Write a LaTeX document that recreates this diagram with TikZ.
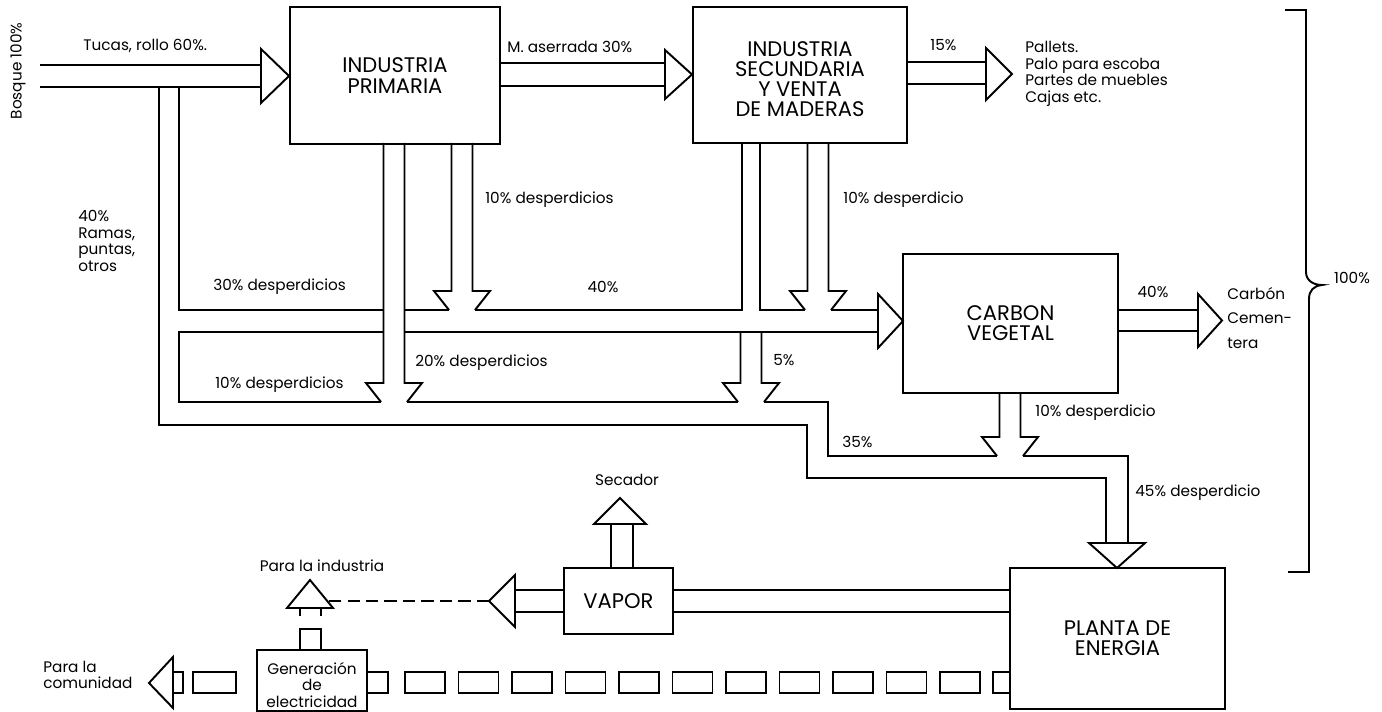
\documentclass[tikz,border=0pt]{standalone}
\usepackage{fontspec}
\setmainfont{Poppins}

\newcommand\labelFont{\fontsize{8.7}{9.4}\selectfont}
\newcommand\boxFont{\fontsize{12}{11.5}\selectfont}

\begin{document}
\begin{tikzpicture}
    [x = 0.02cm, y = -0.02cm,
     wall/.style = {line width = 1.1pt, line join = miter},
     boxNode/.style = {draw, line width = 1.1pt, inner sep = 0pt,
                       align = center, font = \boxFont},
     labelNode/.style = {inner sep = 0pt, align = left,
                         font = \labelFont},
     duct/.style = {line width = 1.1pt, dash pattern = on 7pt off 3.5pt}]

    \useasboundingbox (0,0) rectangle (1382,712);

    % boxes
    \node at (395,75.5)    [boxNode, minimum width = 4.2cm,
                            minimum height = 2.74cm] (prim)
                           {INDUSTRIA\\PRIMARIA};
    \node at (800,75)      [boxNode, minimum width = 4.28cm,
                            minimum height = 2.72cm] (secu) {};
    \node at (800,79)      [labelNode, align = center, font = \boxFont] (secuText)
                           {INDUSTRIA\\SECUNDARIA\\Y VENTA\\DE MADERAS};
    \node at (1010.5,323.5) [boxNode, minimum width = 4.3cm,
                            minimum height = 2.78cm] (carb)
                           {CARBON\\VEGETAL};
    \node at (1117.5,638.5) [boxNode, minimum width = 4.3cm,
                            minimum height = 2.82cm] (planta)
                           {PLANTA DE\\ENERGIA};
    \node at (618.5,601)   [boxNode, minimum width = 2.18cm,
                            minimum height = 1.32cm] (vapor) {VAPOR};
    \node at (312,680.5)   [boxNode, minimum width = 2.2cm,
                            minimum height = 1.22cm] (gen) {};
    \node at (312,685)     [labelNode, align = center] (genText)
                           {Generación\\de\\electricidad};

    % labels
    \node at (18,71)    [labelNode, rotate = 90] (bosque) {Bosque 100\%};
    \node at (83,46)    [labelNode, anchor = west] (tucas) {Tucas, rollo 60\%.};
    \node at (507,47)   [labelNode, anchor = west] (aserrada) {M. aserrada 30\%};
    \node at (930,45)   [labelNode, anchor = west] (quince) {15\%};
    \node at (1025,74)  [labelNode, anchor = west] (pallets)
                        {Pallets.\\Palo para escoba\\Partes de muebles\\Cajas etc.};
    \node at (78,241)   [labelNode, anchor = west] (ramas)
                        {40\%\\Ramas,\\puntas,\\otros};
    \node at (485,200)  [labelNode, anchor = west] (despPrim) {10\% desperdicios};
    \node at (843,200)  [labelNode, anchor = west] (despSecu) {10\% desperdicio};
    \node at (213,287)  [labelNode, anchor = west] (despTreinta) {30\% desperdicios};
    \node at (603,287)  [labelNode] (cuarenta) {40\%};
    \node at (415,363)  [labelNode, anchor = west] (despVeinte) {20\% desperdicios};
    \node at (215,385)  [labelNode, anchor = west] (despDiez) {10\% desperdicios};
    \node at (773,360)  [labelNode, anchor = west] (cinco) {5\%};
    \node at (842,442)  [labelNode, anchor = west] (treintaCinco) {35\%};
    \node at (1035,413) [labelNode, anchor = west] (despCarb) {10\% desperdicio};
    \node at (1135,493) [labelNode, anchor = west] (despTotal) {45\% desperdicio};
    \node at (1153,292) [labelNode] (carbCuarenta) {40\%};
    \node at (1227,318) [labelNode, anchor = west,
                         font = \fontsize{8.7}{14}\selectfont] (cementera)
                        {Carbón\\Cemen-\\tera};
    \node at (1352,278) [labelNode] (cien) {100\%};
    \node at (627,480)  [labelNode] (secador) {Secador};
    \node at (322,566)  [labelNode] (industria) {Para la industria};
    \node at (43,675)   [labelNode, anchor = west] (comunidad)
                        {Para la\\comunidad};

    % raw material in
    \draw [wall] (40,65) -- (261,65) (40,87) -- (261,87);
    \draw [wall] (261,49) -- (289,76) -- (261,103) -- cycle;

    % pipes going down, ending in a head that opens into the pipe below
    \foreach \xc/\ys/\yt in {394/143/383, 462/143/291, 818/143/291,
                              751/332/383, 1010/393/437}
      \draw [wall] (\xc-10.5,\ys) -- (\xc-10.5,\yt) -- (\xc-28,\yt) -- (\xc-13,\yt+19)
                   (\xc+10.5,\ys) -- (\xc+10.5,\yt) -- (\xc+28,\yt) -- (\xc+13,\yt+19);

    % waste pipe to the charcoal
    \draw [wall] (159,87) -- (159,425) -- (807,425) -- (807,478)
                 -- (1106,478) -- (1106,543);
    \draw [wall] (179,87) -- (179,310) -- (383.5,310);
    \draw [wall] (404.5,310) -- (449,310);
    \draw [wall] (475,310) -- (742,310) -- (742,143);
    \draw [wall] (760,143) -- (760,310) -- (805,310);
    \draw [wall] (831,310) -- (878,310);
    \draw [wall] (383.5,332) -- (179,332) -- (179,402) -- (381,402);
    \draw [wall] (404.5,332) -- (878,332);
    \draw [wall] (878,294) -- (903,321) -- (878,348) -- cycle;

    % waste pipe to the power plant
    \draw [wall] (407,402) -- (738,402);
    \draw [wall] (764,402) -- (828,402) -- (828,456) -- (997,456);
    \draw [wall] (1023,456) -- (1128,456) -- (1128,543);
    \draw [wall] (1089,543) -- (1117,568) -- (1145,543) -- cycle;

    % products
    \draw [wall] (500,63) -- (665,63) (500,86) -- (665,86);
    \draw [wall] (665,50) -- (692,74.5) -- (665,99) -- cycle;
    \draw [wall] (907,62) -- (986,62) (907,84) -- (986,84);
    \draw [wall] (986,48) -- (1012,74) -- (986,100) -- cycle;
    \draw [wall] (1118,310) -- (1198,310) (1118,331) -- (1198,331);
    \draw [wall] (1198,294) -- (1222,320.5) -- (1198,347) -- cycle;

    % steam
    \draw [wall] (611,568) -- (611,524) (633,568) -- (633,524);
    \draw [wall] (594,524) -- (620,498) -- (646,524) -- cycle;
    \draw [wall] (564,590) -- (515,590) (564,612) -- (515,612);
    \draw [wall] (515,575) -- (489,601) -- (515,627) -- cycle;
    \draw [wall] (673,590) -- (1010,590) (673,612) -- (1010,612);
    \draw [duct] (489,601) -- (329,601);
    \draw [wall] (287,608) -- (310,580) -- (333,608) -- cycle;
    \draw [wall] (300,608) -- (300,616) (321,608) -- (321,616);
    \draw [wall] (300,629) rectangle (321,650);

    % electric line
    \draw [wall] (149,683) -- (173,657) -- (173,708) -- cycle;
    \draw [wall] (173,672) rectangle (183,693);
    \draw [wall] (193,672) rectangle (236,693);
    \draw [wall] (367,672) rectangle (388,693);
    \foreach \i in {0,...,10}
      \draw [wall] (405+53.5*\i,672) rectangle +(40,21);
    \draw [wall] (993,672) rectangle (1010,693);

    % total
    \draw [wall] (1285,10) -- (1306,10) -- (1306,272)
                 .. controls (1306,281) and (1314,285) .. (1322,285)
                 .. controls (1314,286) and (1309,290) .. (1309,299)
                 -- (1309,572) -- (1288,572);
\end{tikzpicture}
\end{document}
